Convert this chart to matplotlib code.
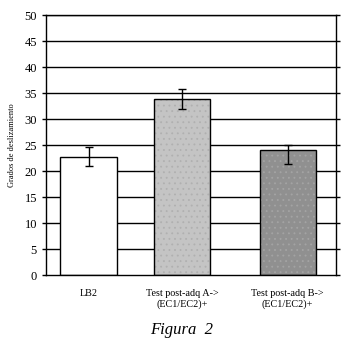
import numpy as np
import matplotlib
matplotlib.use("Agg")
import matplotlib.pyplot as plt

plt.rcParams['font.family'] = ['Liberation Serif', 'DejaVu Serif']
plt.rcParams['hatch.linewidth'] = 0.6

categories = ['LB2', 'Test post-adq A->\n(EC1/EC2)+', 'Test post-adq B->\n(EC1/EC2)+']
values = [22.7, 33.8, 24.0]
err_low = [1.8, 1.9, 2.7]
err_high = [1.9, 1.9, 1.0]
yticks = list(range(0, 55, 5))

xpos = [0.44, 1.41, 2.50]
colors = ['white', '#c4c4c4', '#909090']
hatch_colors = ['white', '#b0b0b0', '#a4a4a4']

fig = plt.figure(figsize=(3.46, 3.49), dpi=100)
ax = fig.add_axes([46 / 346, 1 - 275 / 349, 290 / 346, 260 / 349])

for y in yticks[1:]:
    ax.axhline(y, color='black', lw=1.0, zorder=1)

ax.bar(xpos, values, width=0.58, color=colors, lw=0, zorder=2)
# faint dotted texture like the original fill pattern
for x, v, hc in zip(xpos[1:], values[1:], hatch_colors[1:]):
    ax.bar(x, v, width=0.58, fill=False, hatch='...', edgecolor=hc, lw=0, zorder=2)
ax.bar(xpos, values, width=0.58, fill=False, edgecolor='black', lw=1.0, zorder=2)
ax.errorbar(xpos, values, yerr=[err_low, err_high], fmt='none', ecolor='black',
            elinewidth=1.0, capsize=3, capthick=1.0, zorder=3)

ax.set_xlim(0, 3)
ax.set_ylim(0, 50)
ax.set_yticks(yticks)
ax.set_xticks(xpos)
ax.set_xticklabels(categories, fontsize=7.3)
ax.tick_params(axis='x', length=0, pad=10)
ax.tick_params(axis='y', labelsize=9, length=3, width=1, direction='out', right=True)
for s in ax.spines.values():
    s.set_linewidth(1.0)
    s.set_color('black')
ax.set_ylabel('Grados de deslizamiento', fontsize=6, labelpad=6)

fig.text(182 / 346, 1 - 330 / 349, 'Figura  2', fontsize=12, style='italic',
         ha='center', va='center')

fig.savefig('out.png', dpi=100)
